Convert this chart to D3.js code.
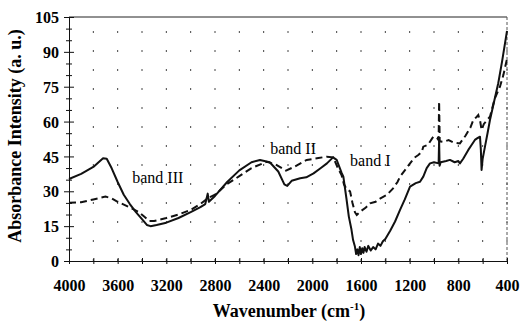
<!DOCTYPE html>
<html><head><meta charset="utf-8">
<script src="https://cdn.jsdelivr.net/npm/d3@7"></script>
<style>body{margin:0;background:#fff}svg{display:block}</style>
</head><body>
<svg id="c" width="520" height="323"></svg>
<script>
const xTicks = [4000,3600,3200,2800,2400,2000,1600,1200,800,400];
const yTicks = [0,15,30,45,60,75,90,105];
const bandLabels = ["band III","band II","band I"];
const bandPos = [[3480,33.5],[2346,46],[1690,40.9]];
const solid = [[4000,35.3],[3900,37.5],[3800,40.5],[3720,44.2],[3690,44],[3650,40],[3600,34],[3550,28.5],[3500,24.5],[3450,21],[3400,18],[3360,15.5],[3330,15],[3280,15.5],[3200,16.5],[3100,18.5],[3000,21],[2920,23.2],[2880,24.5],[2860,29],[2850,25.5],[2800,28],[2700,34],[2600,39],[2500,42.5],[2430,43.5],[2350,42.5],[2280,38.5],[2230,33],[2206,32.3],[2170,34.5],[2100,35.6],[2050,36],[1990,37.7],[1930,40],[1880,42],[1830,44.6],[1800,43.5],[1760,38],[1745,36.3],[1720,27],[1700,19.1],[1680,14],[1665,9],[1650,6.2],[1640,3],[1630,5],[1620,2.5],[1610,6],[1600,3],[1590,5.5],[1580,3.5],[1570,6],[1555,4],[1540,6.5],[1520,4.5],[1500,6],[1480,5],[1460,7.5],[1440,6.5],[1420,8.5],[1400,9.5],[1360,13],[1320,17],[1280,21.9],[1240,26.5],[1197,32],[1150,33.5],[1115,34.1],[1088,36.3],[1060,40],[1033,42],[1000,42.5],[962,42],[958,52],[954,41],[945,42.5],[900,43],[869,43.5],[830,42.5],[800,43],[787,42],[760,44],[718,47.8],[690,50],[664,52.1],[640,53],[622,53.5],[615,48],[609,39.2],[600,44],[581,49.2],[560,55],[540,60.7],[500,70],[472,76.5],[440,86],[400,99]];
const dashed = [[4000,25.1],[3900,25.3],[3800,26.5],[3700,27.7],[3650,27],[3600,25.5],[3500,23],[3430,21.2],[3380,19],[3340,17.2],[3300,17.2],[3200,18.5],[3100,20],[3000,22],[2920,24.5],[2860,27],[2800,28.5],[2704,33],[2600,36.5],[2500,40],[2375,42.7],[2300,41.5],[2217,38.9],[2150,40.5],[2046,43.5],[1950,44.3],[1882,44.9],[1828,44.6],[1790,40],[1760,37],[1740,33],[1720,31],[1690,30],[1670,25],[1650,21],[1635,19.8],[1600,21.5],[1560,23],[1526,24.8],[1480,25.5],[1440,27],[1389,28.4],[1340,31],[1300,34],[1279,36.3],[1240,39],[1197,42],[1160,44.5],[1129,45.6],[1100,47],[1088,49.2],[1050,50],[1006,53.5],[975,53],[962,52],[958,68.6],[953,51.5],[924,51.3],[880,52],[840,51],[787,50.6],[740,54],[700,57.5],[677,60.7],[650,62],[636,62.8],[620,60],[609,56.4],[590,59],[540,62.1],[500,70],[458,75],[430,80],[400,87]];

const svg = d3.select("#c");
const m = {l:69, r:507, t:17, b:261};
const x = d3.scaleLinear().domain([4000,400]).range([m.l,m.r]);
const y = d3.scaleLinear().domain([0,105]).range([m.b,m.t]);
const font = "'Liberation Serif','Times New Roman',serif";

// vertical dotted grid
const gx = d3.range(3800,399,-200);
svg.append("g").selectAll("line").data(gx).join("line")
  .attr("x1",d=>x(d)).attr("x2",d=>x(d)).attr("y1",m.b).attr("y2",m.t)
  .attr("stroke","#444").attr("stroke-width",1).attr("stroke-dasharray","2,17");

// frame top/right
svg.append("line").attr("x1",m.l).attr("x2",m.r).attr("y1",m.t).attr("y2",m.t).attr("stroke","#222").attr("stroke-width",1);
svg.append("line").attr("x1",m.r).attr("x2",m.r).attr("y1",m.t).attr("y2",m.b).attr("stroke","#555").attr("stroke-width",1).attr("stroke-dasharray","3,2");

// axes
const xAxis = d3.axisBottom(x).tickValues(d3.range(4000,399,-200)).tickSize(3).tickFormat("");
const gxa = svg.append("g").attr("transform",`translate(0,${m.b})`).call(xAxis);
gxa.selectAll(".tick line").attr("y1",-3).attr("stroke","#111");
gxa.select(".domain").attr("stroke","#111");
gxa.selectAll(".tick").filter(d=>xTicks.includes(d)).append("text")
  .attr("y",30).attr("text-anchor","middle").attr("fill","#000")
  .style("font-family",font).style("font-size","16px").style("font-weight","bold")
  .text(d=>d);

const yAxis = d3.axisLeft(y).tickValues(d3.range(0,106,5)).tickSize(4).tickFormat("");
const gya = svg.append("g").attr("transform",`translate(${m.l},0)`).call(yAxis);
gya.selectAll(".tick line").attr("x1",d=>yTicks.includes(d)?-5:-3).attr("x2",d=>yTicks.includes(d)?5:3).attr("stroke","#111");
gya.select(".domain").attr("stroke","#111");
gya.selectAll(".tick").filter(d=>yTicks.includes(d)).append("text")
  .attr("x",-10).attr("dy","0.35em").attr("text-anchor","end").attr("fill","#000")
  .style("font-family",font).style("font-size","16px").style("font-weight","bold")
  .text(d=>d);

// lines
const line = d3.line().x(d=>x(d[0])).y(d=>y(d[1])).curve(d3.curveLinear);
svg.append("path").datum(dashed).attr("d",line).attr("fill","none")
  .attr("stroke","#111").attr("stroke-width",2).attr("stroke-dasharray","7,4");
svg.append("path").datum(solid).attr("d",line).attr("fill","none")
  .attr("stroke","#111").attr("stroke-width",2).attr("stroke-linejoin","round");

// band labels
svg.append("g").selectAll("text").data(bandLabels).join("text")
  .attr("x",(d,i)=>x(bandPos[i][0])).attr("y",(d,i)=>y(bandPos[i][1]))
  .attr("fill","#000").style("font-family",font).style("font-size","16px")
  .text(d=>d);

// axis titles
const xt = svg.append("text").attr("x",289).attr("y",317).attr("text-anchor","middle")
  .style("font-family",font).style("font-size","18px").style("font-weight","bold");
xt.append("tspan").text("Wavenumber (cm");
xt.append("tspan").attr("dy",-7).style("font-size","11px").text("-1");
xt.append("tspan").attr("dy",7).text(")");

svg.append("text").attr("transform","translate(21,136) rotate(-90)").attr("text-anchor","middle")
  .style("font-family",font).style("font-size","18px").style("font-weight","bold")
  .text("Absorbance Intensity (a. u.)");
</script>
</body></html>
